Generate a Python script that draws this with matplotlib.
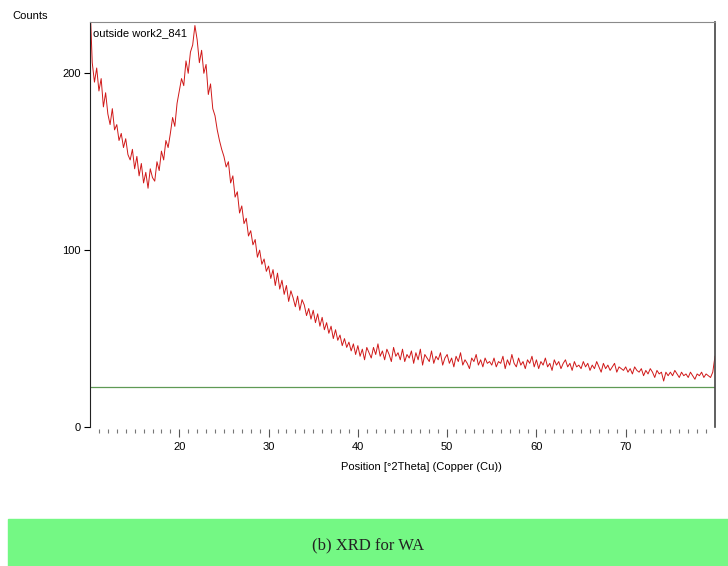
import numpy as np
import matplotlib.pyplot as plt
from matplotlib.patches import Rectangle

# XRD scan of WA sample, counts every 0.25 deg 2theta from 10 to 80
theta_start = 10.0
theta_step = 0.25
counts = [
    240, 206, 195, 203, 190, 197, 181, 189, 177, 171, 180, 168, 171, 162, 166, 158, 163, 154, 151, 157,
    146, 153, 142, 149, 138, 144, 135, 146, 141, 139, 150, 145, 156, 151, 162, 158, 166, 175, 170, 183,
    190, 197, 193, 207, 200, 212, 216, 227, 219, 206, 213, 200, 205, 188, 194, 180, 176, 168, 162, 157,
    153, 147, 150, 138, 142, 130, 133, 121, 125, 115, 118, 108, 111, 103, 106, 96, 100, 92, 95, 88,
    91, 84, 89, 80, 87, 78, 83, 75, 80, 71, 77, 73, 68, 74, 66, 72, 69, 63, 67, 61,
    66, 59, 64, 57, 62, 55, 59, 53, 57, 50, 55, 49, 52, 46, 50, 45, 48, 43, 47, 41,
    46, 40, 44, 38, 45, 42, 39, 45, 41, 47, 40, 43, 38, 44, 41, 37, 45, 40, 42, 38,
    44, 37, 41, 39, 43, 36, 42, 38, 44, 35, 41, 39, 37, 43, 36, 40, 38, 42, 35, 39,
    41, 36, 39, 34, 40, 37, 42, 35, 38, 36, 33, 39, 37, 41, 35, 38, 34, 39, 36, 37,
    35, 39, 34, 37, 36, 40, 33, 38, 35, 41, 36, 34, 39, 35, 37, 33, 38, 36, 40, 34,
    38, 33, 37, 35, 39, 34, 36, 32, 38, 35, 37, 33, 36, 38, 34, 36, 32, 37, 34, 35,
    33, 37, 34, 36, 32, 35, 33, 37, 34, 31, 36, 33, 35, 32, 34, 36, 31, 34, 33, 32,
    34, 31, 33, 30, 34, 32, 31, 33, 29, 32, 30, 33, 31, 28, 32, 30, 31, 26, 31, 29,
    31, 29, 32, 30, 28, 31, 29, 30, 28, 31, 29, 27, 30, 29, 31, 28, 30, 29, 28, 31,
    40,
]
background = 22.5
sample_name = "outside work2_841"
caption = "(b) XRD for WA"

theta = theta_start + theta_step * np.arange(len(counts))

plt.rcParams['font.family'] = ['Liberation Sans', 'DejaVu Sans']

fig = plt.figure(figsize=(7.28, 5.66), dpi=100)
ax = fig.add_axes([90 / 728, 1 - 427 / 566, 625 / 728, 405 / 566])

ax.plot(theta, counts, color='#d01818', lw=0.7)
ax.axhline(background, color='#5f9a55', lw=0.9)

ax.set_xlim(10, 80)
ax.set_ylim(0, 229)

# axes frame
ax.spines['bottom'].set_position(('outward', 1.5))
ax.spines['bottom'].set_visible(False)
ax.spines['top'].set_color('#8a8a8a')
ax.spines['left'].set_color('#222222')
ax.spines['right'].set_color('#444444')
ax.spines['right'].set_linewidth(1.2)

ax.set_xticks([20, 30, 40, 50, 60, 70])
ax.set_xticks(np.arange(11, 80), minor=True)
ax.set_yticks([0, 100, 200])
ax.tick_params(axis='x', which='major', length=6, width=0.8, color='#555555',
               labelsize=8, pad=3)
ax.tick_params(axis='x', which='minor', length=3, width=0.8, color='#777777')
ax.tick_params(axis='y', length=4.5, width=0.8, labelsize=8, pad=2)

fig.text(421 / 728, 1 - 467 / 566, "Position [°2Theta] (Copper (Cu))",
         fontsize=8, ha='center', va='center')
fig.text(12 / 728, 1 - 16 / 566, "Counts", fontsize=8, va='center', ha='left')
ax.text(0.005, 0.985, sample_name, transform=ax.transAxes, fontsize=8,
        va='top', ha='left')

# caption band
fig.patches.append(Rectangle((8 / 728, 0), 1, 47 / 566, transform=fig.transFigure,
                             color='#74f884', zorder=0))
fig.text(368 / 728, 1 - 545 / 566, caption, fontsize=12, ha='center', va='center',
         family=['Liberation Serif', 'DejaVu Serif'], color='#222222')

fig.savefig('out.png', dpi=100)
